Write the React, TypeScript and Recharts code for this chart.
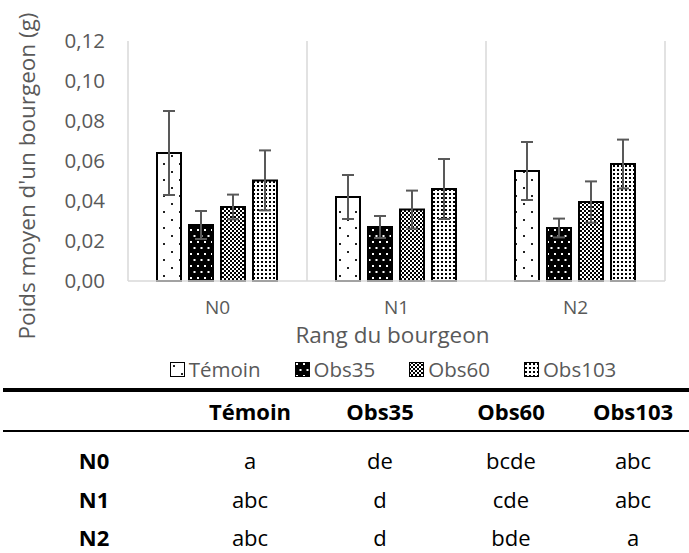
import React from 'react';
import { BarChart, Bar, XAxis, YAxis, CartesianGrid, ErrorBar, Label } from 'recharts';

const categories = ['N0', 'N1', 'N2'];
const seriesNames = ['Témoin', 'Obs35', 'Obs60', 'Obs103'];

// mean bud weight (g) and error bar half-length, one value per rank
const temoin = [0.064, 0.042, 0.055];
const temoinErr = [0.021, 0.011, 0.0145];
const obs35 = [0.028, 0.027, 0.0265];
const obs35Err = [0.007, 0.0055, 0.0047];
const obs60 = [0.037, 0.0357, 0.0395];
const obs60Err = [0.0062, 0.0095, 0.0103];
const obs103 = [0.0503, 0.046, 0.0585];
const obs103Err = [0.015, 0.015, 0.0122];

const yTicks = [0, 0.02, 0.04, 0.06, 0.08, 0.1, 0.12];

// letters of the comparison test, one row per rank
const letterRows = [
  ['a', 'de', 'bcde', 'abc'],
  ['abc', 'd', 'cde', 'abc'],
  ['abc', 'd', 'bde', 'a'],
];

const data = categories.map((name, i) => ({
  name,
  temoin: temoin[i],
  temoinErr: temoinErr[i],
  obs35: obs35[i],
  obs35Err: obs35Err[i],
  obs60: obs60[i],
  obs60Err: obs60Err[i],
  obs103: obs103[i],
  obs103Err: obs103Err[i],
}));

const series = [
  { key: 'temoin', err: 'temoinErr', pattern: 'patTemoin' },
  { key: 'obs35', err: 'obs35Err', pattern: 'patObs35' },
  { key: 'obs60', err: 'obs60Err', pattern: 'patObs60' },
  { key: 'obs103', err: 'obs103Err', pattern: 'patObs103' },
];

const FONT = '"Open Sans", sans-serif';
const GRAY = '#595959';

const fmt = (v: number) => v.toFixed(2).replace('.', ',');

const Patterns = () => (
  <defs>
    <pattern id="patTemoin" patternUnits="userSpaceOnUse" width={16} height={16}>
      <rect width={16} height={16} fill="#fff" />
      <rect x={3} y={3} width={2} height={2} fill="#222" />
      <rect x={11} y={11} width={2} height={2} fill="#222" />
    </pattern>
    <pattern id="patObs35" patternUnits="userSpaceOnUse" width={7} height={12}>
      <rect width={7} height={12} fill="#000" />
      <rect x={1} y={1} width={2} height={2} fill="#fff" />
      <rect x={4.5} y={7} width={2} height={2} fill="#fff" />
    </pattern>
    <pattern id="patObs60" patternUnits="userSpaceOnUse" width={4} height={4}>
      <rect width={4} height={4} fill="#000" />
      <rect x={0} y={0} width={2} height={2} fill="#fff" />
      <rect x={2} y={2} width={2} height={2} fill="#fff" />
    </pattern>
    <pattern id="patObs103" patternUnits="userSpaceOnUse" width={4} height={4}>
      <rect width={4} height={4} fill="#fff" />
      <rect x={1} y={1} width={2} height={2} fill="#000" />
    </pattern>
  </defs>
);

// the title is longer than the plot, so it runs down past the x axis like in Excel
const YTitle = (props: any) => {
  const vb = props.viewBox;
  const x = vb.x + 35;
  const y = vb.y + vb.height / 2 + 15;
  return (
    <text x={x} y={y} transform={`rotate(-90 ${x} ${y})`} textAnchor="middle" fill={GRAY} fontSize={22.5}>
      Poids moyen d'un bourgeon (g)
    </text>
  );
};

const XTitle = (props: any) => {
  const vb = props.viewBox;
  return (
    <text x={vb.x + vb.width / 2 - 4} y={vb.y + 62} textAnchor="middle" fill={GRAY} fontSize={22.5}>
      Rang du bourgeon
    </text>
  );
};

const App: React.FC = () => {
  return (
    <div style={{ position: 'relative', width: 689, height: 553, fontFamily: FONT, background: '#fff' }}>
      <style>{'body{margin:0}'}</style>
      <BarChart
        width={689}
        height={390}
        data={data}
        margin={{ top: 41, right: 24, left: 0, bottom: 0 }}
        barGap={8}
        barCategoryGap={29}
        style={{ fontFamily: FONT }}
      >
        <Patterns />
        <CartesianGrid
          horizontal={false}
          stroke="#d9d9d9"
          strokeWidth={1.5}
          verticalCoordinatesGenerator={({ offset }: any) =>
            [0, 1, 2, 3].map(i => offset.left + (i * offset.width) / categories.length)
          }
        />
        <XAxis
          dataKey="name"
          height={109}
          tickLine={false}
          tickSize={0}
          tickMargin={20}
          axisLine={{ stroke: '#d9d9d9', strokeWidth: 1.5 }}
          tick={{ fill: GRAY, fontSize: 19 }}
        >
          <Label content={XTitle} />
        </XAxis>
        <YAxis
          domain={[0, 0.12]}
          ticks={yTicks}
          interval={0}
          width={128}
          tickLine={false}
          axisLine={false}
          tickSize={0}
          tickMargin={23}
          tickFormatter={fmt}
          tick={{ fill: GRAY, fontSize: 20.5 }}
        >
          <Label content={YTitle} />
        </YAxis>
        {series.map(s => (
          <Bar
            key={s.key}
            dataKey={s.key}
            fill={`url(#${s.pattern})`}
            stroke="#000"
            strokeWidth={2}
            isAnimationActive={false}
          >
            <ErrorBar dataKey={s.err} width={6} stroke={GRAY} strokeWidth={2} />
          </Bar>
        ))}
      </BarChart>

      {/* legend */}
      <div
        style={{
          position: 'absolute',
          top: 357,
          left: 128,
          width: 530,
          display: 'flex',
          justifyContent: 'center',
          gap: 34,
          color: GRAY,
          fontSize: 20.5,
          lineHeight: '24px',
        }}
      >
        {series.map((s, i) => (
          <div key={s.key} style={{ display: 'flex', alignItems: 'center', gap: 4 }}>
            <svg width={15} height={15} style={{ display: 'block' }}>
              <rect x={0.5} y={0.5} width={14} height={14} fill={`url(#${s.pattern})`} stroke="#000" strokeWidth={1} />
            </svg>
            <span>{seriesNames[i]}</span>
          </div>
        ))}
      </div>

      {/* letters table */}
      <div style={{ position: 'absolute', top: 388, left: 3, width: 686, height: 4, background: '#000' }} />
      <div
        style={{
          position: 'absolute',
          top: 392,
          left: 3,
          height: 38,
          lineHeight: '38px',
          display: 'grid',
          gridTemplateColumns: '182px 130px 130px 132px 112px',
          fontWeight: 700,
          fontSize: 22,
          color: '#000',
          textAlign: 'center',
        }}
      >
        <div />
        {seriesNames.map(n => (
          <div key={n}>{n}</div>
        ))}
      </div>
      <div style={{ position: 'absolute', top: 430, left: 3, width: 686, height: 2, background: '#000' }} />
      {letterRows.map((row, r) => (
        <div
          key={categories[r]}
          style={{
            position: 'absolute',
            top: 441 + r * 38.5,
            left: 3,
            height: 38,
            lineHeight: '38px',
            display: 'grid',
            gridTemplateColumns: '182px 130px 130px 132px 112px',
            fontSize: 22,
            color: '#000',
            textAlign: 'center',
          }}
        >
          <div style={{ fontWeight: 700 }}>{categories[r]}</div>
          {row.map((v, c) => (
            <div key={c}>{v}</div>
          ))}
        </div>
      ))}
    </div>
  );
};

export default App;
